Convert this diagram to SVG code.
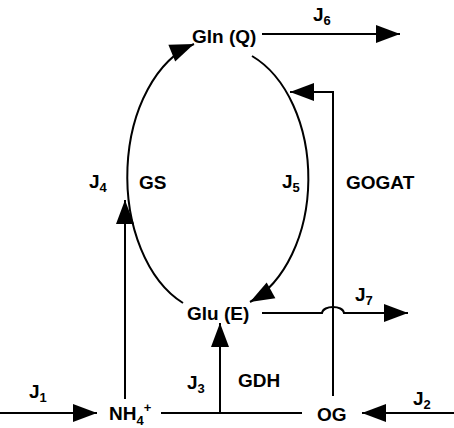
<svg xmlns="http://www.w3.org/2000/svg" width="454" height="428" viewBox="0 0 454 428">
<defs>
<marker id="ah" markerUnits="userSpaceOnUse" markerWidth="30" markerHeight="24" viewBox="-26 -12 28 24" refX="0" refY="0" orient="auto">
<path d="M0,0 L-24,-9 L-24,9 Z" fill="#000"/>
</marker>
<style>
text{font-family:"Liberation Sans",Arial,Helvetica,sans-serif;font-weight:bold;font-size:19px;fill:#000}
.s{font-size:13px}
.c{fill:none;stroke:#000;stroke-width:2}
</style>
</defs>
<rect width="454" height="428" fill="#fff"/>
<g id="connectors">
<path class="c" d="M252,56 A90,132 0 0 1 250,302" marker-end="url(#ah)"/>
<path class="c" d="M183,303 A90,137 0 0 1 194,44" marker-end="url(#ah)"/>
<path class="c" d="M262,34 H400" marker-end="url(#ah)"/>
<path class="c" d="M333,396 V92 H290" marker-end="url(#ah)"/>
<path class="c" d="M262,313 H322 C323,305 343,305 344,313 H408" marker-end="url(#ah)"/>
<path class="c" d="M125,399 V200" marker-end="url(#ah)"/>
<path class="c" d="M161,413 H302"/>
<path class="c" d="M220,413 V323" marker-end="url(#ah)"/>
<path class="c" d="M0,413 H97" marker-end="url(#ah)"/>
<path class="c" d="M454,413 H362" marker-end="url(#ah)"/>
</g>
<g id="gln"><text x="192" y="43">Gln (Q)</text></g>
<g id="glu"><text x="187" y="320">Glu (E)</text></g>
<g id="nh4"><text x="109" y="420">NH<tspan class="s" dy="5">4</tspan><tspan class="s" dy="-13">+</tspan></text></g>
<g id="og"><text x="317" y="421">OG</text></g>
<g id="labels">
<text x="313" y="21">J<tspan class="s" dy="4">6</tspan></text>
<text x="89" y="188">J<tspan class="s" dy="4">4</tspan></text>
<text x="139" y="189">GS</text>
<text x="282" y="188">J<tspan class="s" dy="4">5</tspan></text>
<text x="346" y="189">GOGAT</text>
<text x="355" y="301">J<tspan class="s" dy="4">7</tspan></text>
<text x="187" y="389">J<tspan class="s" dy="4">3</tspan></text>
<text x="238" y="387">GDH</text>
<text x="29" y="398">J<tspan class="s" dy="4">1</tspan></text>
<text x="413" y="405">J<tspan class="s" dy="4">2</tspan></text>
</g>
</svg>
